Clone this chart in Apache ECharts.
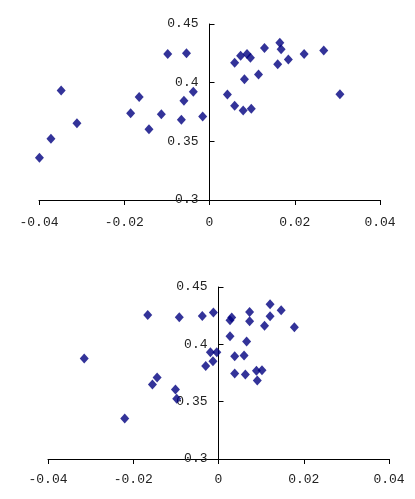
<!DOCTYPE html>
<html><head><meta charset="utf-8">
<script src="https://cdn.jsdelivr.net/npm/echarts@6/dist/echarts.min.js"></script>
<style>html,body{margin:0;padding:0;background:#fff}#c{width:415px;height:499px}</style>
</head><body><div id="c"></div>
<script>
const xTicks = [-0.04, -0.02, 0, 0.02, 0.04];
const yTicks = [0.3, 0.35, 0.4, 0.45];

const topX = [-0.0399,-0.0372,-0.0348,-0.0311,-0.0185,-0.0165,-0.0142,-0.0113,-0.0098,-0.0054,-0.0060,-0.0038,-0.0066,-0.0016,
  0.0042,0.0059,0.0059,0.0073,0.0079,0.0082,0.0088,0.0096,0.0098,0.0115,0.0129,0.0165,0.0168,0.0160,0.0185,0.0222,0.0268,0.0306];
const topY = [0.3361,0.3521,0.3934,0.3655,0.3740,0.3877,0.3603,0.3731,0.4244,0.4250,0.3845,0.3922,0.3683,0.3712,
  0.3899,0.3803,0.4170,0.4230,0.3763,0.4030,0.4244,0.4213,0.3777,0.4070,0.4295,0.4340,0.4284,0.4158,0.4198,0.4244,0.4275,0.3902];

const botX = [-0.0315,-0.0220,-0.0166,-0.0155,-0.0144,-0.0092,-0.0101,-0.0098,-0.0038,-0.0012,-0.0030,-0.0019,-0.0013,-0.0004,
  0.0027,0.0031,0.0027,0.0038,0.0038,0.0060,0.0063,0.0066,0.0073,0.0073,0.0089,0.0091,0.0102,0.0108,0.0121,0.0121,0.0147,0.0178];
const botY = [0.3876,0.3354,0.4256,0.3650,0.3711,0.4236,0.3606,0.3525,0.4248,0.4277,0.3810,0.3931,0.3853,0.3931,
  0.4210,0.4233,0.4071,0.3897,0.3746,0.3902,0.3737,0.4024,0.4282,0.4201,0.3769,0.3685,0.3775,0.4163,0.4349,0.4245,0.4297,0.4149];

const FONT = 'Liberation Mono';
const TXT = '#222';
const GRID_W = 341;
function fmt(v){ return String(Math.round(v*1000)/1000); }

function xAxis(gi, margin){
  return {type:'value', gridIndex:gi, min:xTicks[0], max:xTicks[xTicks.length-1], interval:0.02,
    axisLine:{show:true, onZero:false, lineStyle:{color:'#000', width:1}},
    axisTick:{show:true, inside:false, length:5, lineStyle:{color:'#000'}},
    splitLine:{show:false},
    axisLabel:{margin:margin, fontFamily:FONT, fontSize:13, color:TXT, formatter:fmt}};
}
function yAxis(gi){
  // place the y axis where x = 0 (middle of the symmetric x range)
  return {type:'value', gridIndex:gi, position:'left', offset:-GRID_W/2,
    min:yTicks[0], max:yTicks[yTicks.length-1], interval:0.05,
    axisLine:{show:true, onZero:false, lineStyle:{color:'#000', width:1}},
    axisTick:{show:true, inside:true, length:5, lineStyle:{color:'#000'}},
    splitLine:{show:false},
    axisLabel:{margin:11, fontFamily:FONT, fontSize:13, color:TXT, formatter:fmt}};
}
function pairs(xs, ys){ return xs.map((x,i)=>[x, ys[i]]); }

const chart = echarts.init(document.getElementById('c'), null, {renderer:'canvas'});
chart.setOption({
  animation:false,
  grid:[
    {left:39, width:GRID_W, top:24, height:176},
    {left:48, width:GRID_W, top:287, height:172}
  ],
  xAxis:[xAxis(0,16), xAxis(1,14)],
  yAxis:[yAxis(0), yAxis(1)],
  series:[
    {type:'scatter', xAxisIndex:0, yAxisIndex:0, symbol:'diamond', symbolSize:[9,10],
     itemStyle:{color:'#000080'}, data:pairs(topX, topY)},
    {type:'scatter', xAxisIndex:1, yAxisIndex:1, symbol:'diamond', symbolSize:[9,10],
     itemStyle:{color:'#000080'}, data:pairs(botX, botY)}
  ]
});
</script></body></html>
